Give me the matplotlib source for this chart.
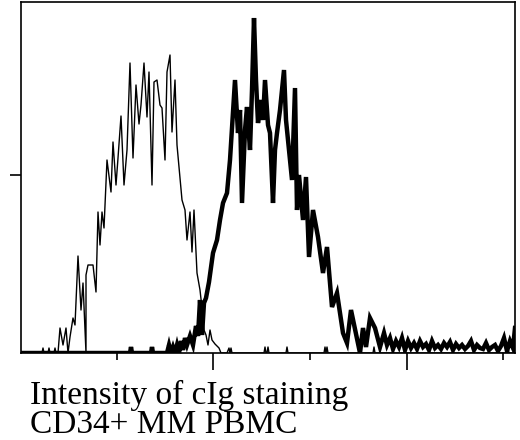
import matplotlib
matplotlib.use("Agg")
import matplotlib.pyplot as plt

# thin histogram (control): channel, count
thin_x = [0, 21, 22, 23, 27, 28, 29, 33, 34, 35, 37, 39, 42, 45, 47, 49, 52, 54, 57, 60, 62, 65, 65, 67, 72, 75, 77, 79, 81, 83, 86, 90,
          92, 95, 97, 100, 103, 106, 109, 112, 115, 118, 120, 123, 126, 128, 131, 133, 136, 139, 141, 144, 146, 149, 151, 154, 156,
          161, 164, 166, 169, 171, 173, 176, 179, 181, 183, 185, 187, 189, 191, 194, 196, 198, 200, 203, 206, 208, 209, 210, 211,
          243, 244, 245, 246, 247, 248, 265, 266, 267, 303, 304, 305, 306, 307, 352, 353, 354, 476, 477, 478, 479, 480, 486, 487, 488, 494]
thin_y = [0, 0, 5, 0, 0, 5, 0, 0, 5, 0, 0, 25, 8, 25, 0, 16, 35, 28, 97, 43, 70, 0, 78, 88, 88, 61, 141, 108, 141, 125, 193, 161,
          211, 168, 195, 237, 168, 203, 290, 195, 268, 229, 248, 290, 236, 281, 168, 271, 273, 248, 245, 193, 281, 298, 221, 273, 208,
          153, 143, 113, 141, 101, 143, 80, 63, 45, 23, 18, 8, 23, 13, 9, 7, 5, 0, 0, 0, 5, 0, 5, 0,
          0, 6, 0, 0, 6, 0, 0, 6, 0, 0, 6, 0, 6, 0, 0, 6, 0, 0, 5, 0, 0, 0, 0, 5, 0, 0]

# thick histogram (CD34+ MM PBMC): channel, count
thick_x = [0, 109, 110, 111, 130, 131, 132, 146, 148, 150, 152, 154, 156, 158, 160, 162, 164, 166, 169, 172, 175, 177, 179, 181,
           183, 185, 188, 192, 196, 199, 202, 206, 209,
           214, 217, 219, 221, 224, 226, 229, 231, 233, 235, 237, 240, 242, 244, 247, 249,
           252, 254, 256, 259, 263, 265, 267, 271, 274, 276, 278, 282, 285, 288, 292, 297,
           302, 306, 311, 316, 322, 326, 330, 339, 342, 345, 349, 354, 359, 363, 366, 369, 372, 375, 378,
           381, 384, 387, 390, 393, 396, 399, 402, 405, 408, 411, 414, 417, 420, 423, 426, 429, 432, 435, 438, 441, 444, 447, 450,
           453, 456, 459, 462, 465, 468, 471, 474, 477, 480, 483, 486, 489, 492, 494]
thick_y = [0, 0, 6, 0, 0, 6, 0, 0, 8, 0, 6, 0, 8, 0, 12, 3, 15, 8, 17, 8, 27, 17, 53, 18,
           50, 55, 71, 100, 113, 133, 150, 160, 193,
           273, 220, 243, 150, 223, 246, 203, 263, 335, 273, 230, 253, 233, 273, 228, 220,
           150, 203, 220, 243, 283, 233, 213, 173, 265, 143, 178, 133, 176, 96, 143, 116,
           80, 106, 46, 60, 20, 10, 43, 0, 25, 6, 35, 25, 6, 20, 8, 15, 4, 12, 6,
           15, 3, 12, 5, 10, 4, 12, 6, 9, 3, 12, 5, 8, 4, 10, 6, 11, 3, 9, 5, 8, 4, 7, 12,
           3, 8, 5, 4, 10, 3, 6, 8, 2, 7, 15, 2, 12, 5, 25]

xticks_major = [192, 386]
xticks_minor = [96, 289, 482]
yticks = [178]

fig = plt.figure(figsize=(5.2, 4.4), dpi=100)
ax = fig.add_axes([21/520, 1-353/440, 494/520, 351/440])
ax.plot(thin_x, thin_y, color="black", lw=1.0)
ax.plot(thick_x, thick_y, color="black", lw=3.2, solid_joinstyle="miter")
ax.set_xlim(0, 494)
ax.set_ylim(0, 351)
for s in ax.spines.values():
    s.set_linewidth(1.2)
ax.set_xticks(xticks_major)
ax.set_xticks(xticks_minor, minor=True)
ax.set_xticklabels([])
ax.tick_params(axis="x", which="major", length=12, width=1.2, direction="out")
ax.tick_params(axis="x", which="minor", length=5, width=1.2, direction="out")
ax.set_yticks(yticks)
ax.set_yticklabels([])
ax.tick_params(axis="y", length=8, width=1.2, direction="out")
fig.text(30/520, 1-404/440, "Intensity of cIg staining", family="Liberation Serif",
         fontsize=24, va="baseline", ha="left")
fig.text(30/520, 1-433/440, "CD34+ MM PBMC", family="Liberation Serif",
         fontsize=24, va="baseline", ha="left")
fig.savefig("out.png", dpi=100)
